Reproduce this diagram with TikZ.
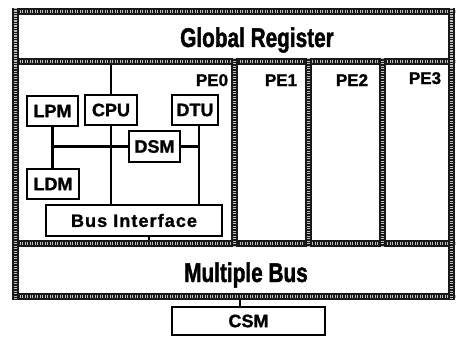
\documentclass[tikz,border=0pt]{standalone}
\usepackage{fontspec}
\setmainfont{Liberation Sans}
\newfontfamily\hb{Liberation Sans Bold}[FakeBold=1.2]
\newfontfamily\hbwide{Liberation Sans Bold}[FakeBold=1.2, LetterSpace=6]
\newfontfamily\narrowfont{Liberation Sans Bold}[FakeStretch=0.77, FakeBold=1.5]
\newcommand\hband[3]{%
  \fill[bandfill] (#1,#3-3.75) rectangle (#2,#3+3.75);
  \draw[bandtex] (#1,#3) -- (#2,#3);}
\newcommand\vband[3]{%
  \fill[bandfill] (#3-3.75,#1) rectangle (#3+3.75,#2);
  \draw[bandtex] (#3,#1) -- (#3,#2);}
\begin{document}
\begin{tikzpicture}[x=1pt,y=-1pt,
  box/.style={draw, line width=1.5pt, fill=white, inner sep=0pt,
    font=\hb\fontsize{18}{20}\selectfont},
  pelabel/.style={font=\hb\fontsize{17}{19}\selectfont, anchor=base, inner sep=0pt},
  bigl/.style={font=\narrowfont\fontsize{27}{29}\selectfont, anchor=base, inner sep=0pt},
  wire/.style={line width=2.4pt},
  bandfill/.style={fill=black!90},
  bandtex/.style={draw=white!75!black, line width=3.4pt, dash pattern=on 1.3pt off 1.2pt}]
\useasboundingbox (0,0) rectangle (457,337);
% frame bands
\hband{12}{455}{11.5}
\hband{12}{455}{61.5}
\hband{12}{455}{243.5}
\hband{12}{455}{296.5}
\vband{8}{300}{15.5}
\vband{8}{300}{451.5}
\vband{58}{247}{234.5}
\vband{58}{247}{308.5}
\vband{58}{247}{382.5}
% labels
\node[bigl] (grl) at (257,47) {Global Register};
\node[bigl] (mbl) at (246,282) {Multiple Bus};
\node[pelabel] (pe0) at (212,86) {PE0};
\node[pelabel] (pe1) at (281,86) {PE1};
\node[pelabel] (pe2) at (352,86) {PE2};
\node[pelabel] (pe3) at (425,84) {PE3};
% boxes
\node[box, minimum width=51pt, minimum height=30pt] (lpm) at (52.5,111) {LPM};
\node[box, minimum width=52pt, minimum height=30pt] (cpu) at (111,110) {CPU};
\node[box, minimum width=46pt, minimum height=30pt] (dtu) at (195,110) {DTU};
\node[box, minimum width=51pt, minimum height=31pt] (dsm) at (154.5,146.5) {DSM};
\node[box, minimum width=52pt, minimum height=30pt] (ldm) at (53,184) {LDM};
\node[box, minimum width=176pt, minimum height=31pt, font=\hbwide\fontsize{18}{20}\selectfont] (bus) at (134,220.5) {Bus Interface};
\node[box, minimum width=153pt, minimum height=28pt] (csm) at (248.5,321) {CSM};
% connector ends
\coordinate (gr) at (111,65);
\coordinate (mb) at (149,240);
\coordinate (mbb) at (240,300);
\coordinate (dtux) at (199,0);
% connectors
\draw[wire] (cpu.north) -- (cpu.north |- gr);
\draw[wire] (cpu.south) -- (cpu.south |- bus.north);
\draw[wire] (lpm.south) -- (lpm.south |- ldm.north);
\draw[wire] (lpm.south |- dsm.west) -- (dsm.west);
\draw[wire] (dsm.east) -- (dsm.east -| dtux);
\draw[wire] (dtu.south -| dtux) -- (bus.north -| dtux);
\draw[wire] (bus.south -| mb) -- (mb);
\draw[wire] (csm.north -| mbb) -- (mbb);
\end{tikzpicture}
\end{document}
